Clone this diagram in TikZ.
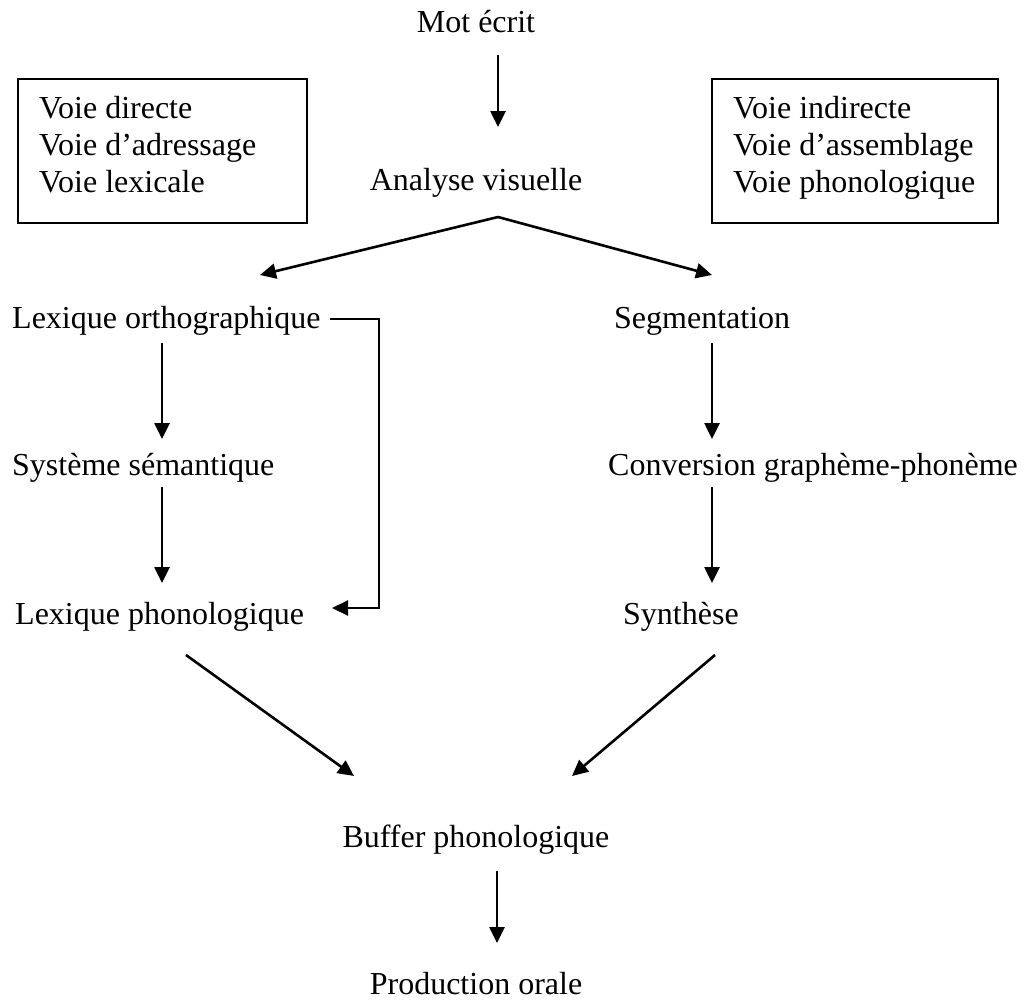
\documentclass[tikz,border=0pt]{standalone}
\usepackage{fontspec}
\setmainfont{Liberation Serif}
\usetikzlibrary{arrows.meta}
\begin{document}
\begin{tikzpicture}[x=1pt,y=-1pt,
  lbl/.style={inner sep=0pt, font=\fontsize{32}{37}\selectfont},
  flow/.style={line width=2.6pt, -{Triangle[length=16pt,width=15pt]}},
  frame/.style={line width=1.6pt},
  bracket/.style={line width=2pt, -{Triangle[length=16pt,width=15pt]}}]
\useasboundingbox (0,0) rectangle (1028,1001);

% main column
\node[lbl, anchor=base] (mot) at (476,32) {Mot écrit};
\node[lbl, anchor=base] (analyse) at (476,190) {Analyse visuelle};

% route labels in frames
\draw[frame] (18,79) rectangle (307,223);
\node[lbl, anchor=base west] (d1) at (39,118) {Voie directe};
\node[lbl, anchor=base west] (d2) at (39,155) {Voie d’adressage};
\node[lbl, anchor=base west] (d3) at (39,192) {Voie lexicale};
\draw[frame] (712,79) rectangle (998,223);
\node[lbl, anchor=base west] (i1) at (733,118) {Voie indirecte};
\node[lbl, anchor=base west] (i2) at (733,155) {Voie d’assemblage};
\node[lbl, anchor=base west] (i3) at (733,192) {Voie phonologique};

% lexical route
\node[lbl, anchor=base west] (lexo) at (12,328) {Lexique orthographique};
\node[lbl, anchor=base west] (sem) at (12,475) {Système sémantique};
\node[lbl, anchor=base west] (lexp) at (15,624) {Lexique phonologique};

% phonological route
\node[lbl, anchor=base west] (seg) at (614,328) {Segmentation};
\node[lbl, anchor=base west] (conv) at (608,475) {Conversion graphème-phonème};
\node[lbl, anchor=base west] (syn) at (623,624) {Synthèse};

% output
\node[lbl, anchor=base] (buf) at (476,847) {Buffer phonologique};
\node[lbl, anchor=base] (prod) at (476,994) {Production orale};

% connector end points
\coordinate (a1) at (498,55);  \coordinate (a2) at (498,127);
\coordinate (apex) at (498,217);
\coordinate (tl) at (260,275); \coordinate (tr) at (712,275);
\coordinate (l1) at (162,343); \coordinate (l2) at (162,439);
\coordinate (l3) at (162,487); \coordinate (l4) at (162,583);
\coordinate (r1) at (712,343); \coordinate (r2) at (712,439);
\coordinate (r3) at (712,487); \coordinate (r4) at (712,583);
\coordinate (b0) at (330,319); \coordinate (b1) at (379,319);
\coordinate (b2) at (379,608); \coordinate (b3) at (332,608);
\coordinate (cl0) at (186,655); \coordinate (cl1) at (354,776);
\coordinate (cr0) at (715,655); \coordinate (cr1) at (572,776);
\coordinate (p1) at (497,871); \coordinate (p2) at (497,943);

\draw[flow] (a1) -- (a2);
\draw[flow] (apex) -- (tl);
\draw[flow] (apex) -- (tr);
\draw[flow] (l1) -- (l2);
\draw[flow] (l3) -- (l4);
\draw[flow] (r1) -- (r2);
\draw[flow] (r3) -- (r4);
\draw[bracket] (b0) -- (b1) -- (b2) -- (b3);
\draw[flow] (cl0) -- (cl1);
\draw[flow] (cr0) -- (cr1);
\draw[flow] (p1) -- (p2);
\end{tikzpicture}
\end{document}
